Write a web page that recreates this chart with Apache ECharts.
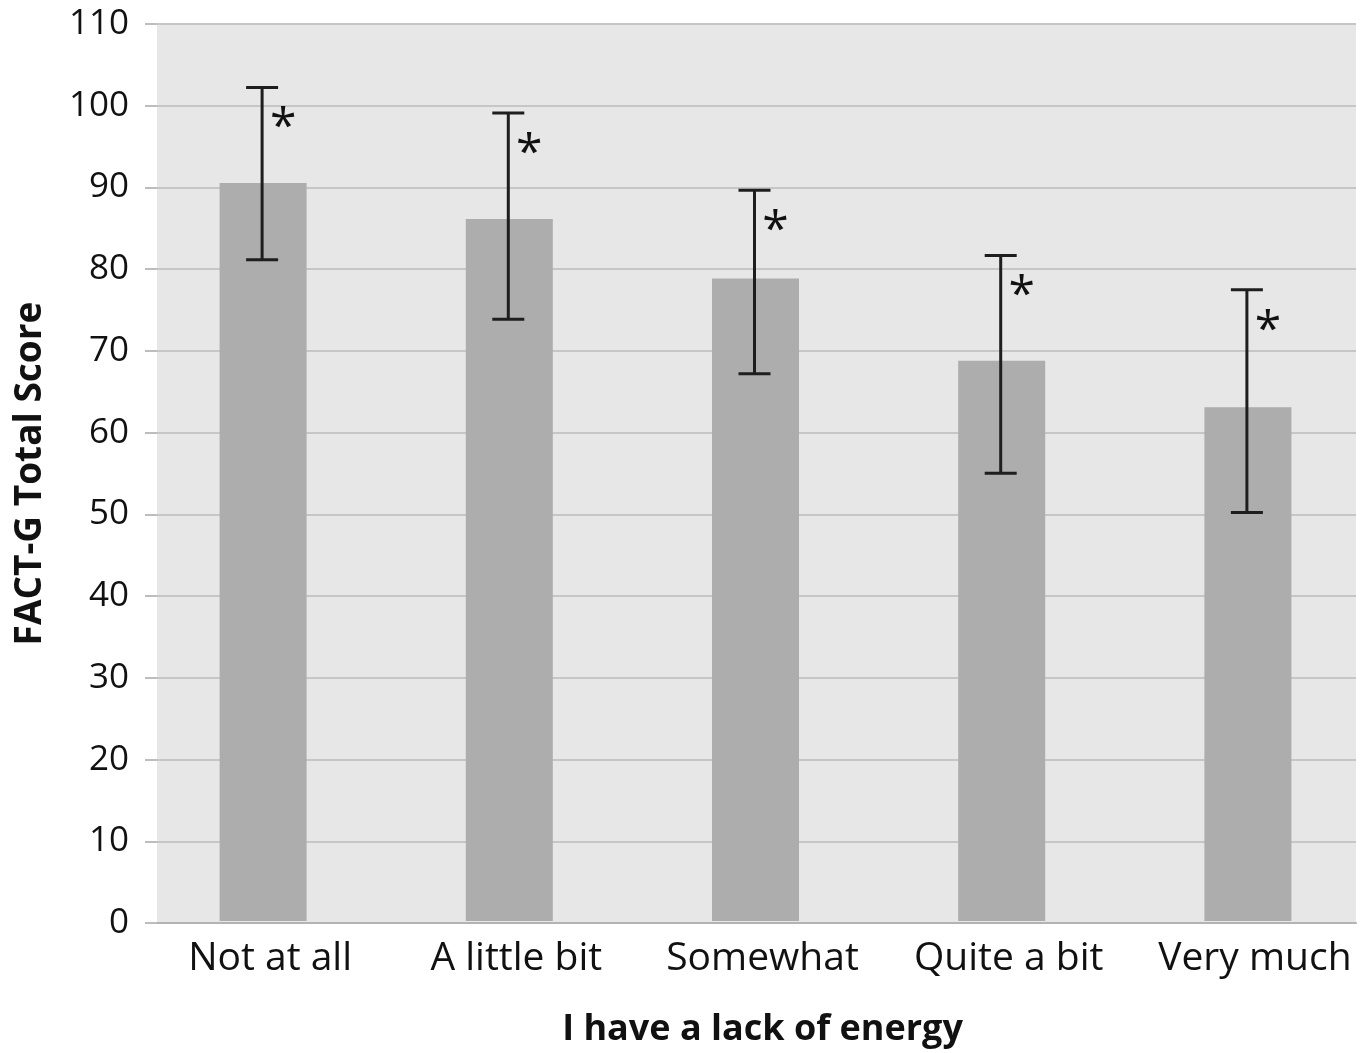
<!DOCTYPE html>
<html>
<head>
<meta charset="utf-8">
<script src="https://cdn.jsdelivr.net/npm/echarts@6/dist/echarts.min.js"></script>
<style>
html,body{margin:0;padding:0;background:#fff;}
#chart{width:1371px;height:1053px;}
</style>
</head>
<body>
<div id="chart"></div>
<script>
const categories = ['Not at all', 'A little bit', 'Somewhat', 'Quite a bit', 'Very much'];
const means = [90.5, 86.1, 78.8, 68.7, 63.0];
const lower = [81.1, 73.8, 67.1, 54.9, 50.1];
const upper = [102.2, 99.1, 89.6, 81.6, 77.4];
const marks = ['*', '*', '*', '*', '*'];
const yTicks = { min: 0, max: 110, interval: 10 };

const FONT = '"Open Sans", "Noto Sans", sans-serif';
const chart = echarts.init(document.getElementById('chart'), null, { renderer: 'canvas' });

const errData = categories.map((c, i) => [i, lower[i], upper[i], marks[i]]);

const option = {
  backgroundColor: '#ffffff',
  animation: false,
  grid: [
    { left: 157, right: 15, top: 24, bottom: 130, show: true, backgroundColor: '#e7e7e7', borderWidth: 0 },
    { left: 140, right: 0, top: 24, bottom: 130 }
  ],
  xAxis: [
    { gridIndex: 0, type: 'value', min: 0, max: 1, show: true,
      axisLine: { show: true, onZero: false, lineStyle: { color: '#b3b3b3', width: 2 } },
      axisTick: { show: false }, axisLabel: { show: false }, splitLine: { show: false } },
    { gridIndex: 1, type: 'category', data: categories, boundaryGap: true,
      axisLine: { show: false }, axisTick: { show: false }, splitLine: { show: false },
      axisLabel: { fontFamily: FONT, fontSize: 39, color: '#111', margin: 18, interval: 0,
        padding: [0, 0, 0, 14] },
      name: 'I have a lack of energy', nameLocation: 'middle', nameGap: 91,
      nameTextStyle: { fontFamily: FONT, fontSize: 36, fontWeight: 'bold', color: '#111',
        padding: [0, 0, 0, 14] } }
  ],
  yAxis: [
    { gridIndex: 0, type: 'value', min: yTicks.min, max: yTicks.max, interval: yTicks.interval,
      axisLine: { show: false },
      axisTick: { show: true, length: 12, lineStyle: { color: '#bdbdbd', width: 2 } },
      splitLine: { show: true, lineStyle: { color: '#c6c6c6', width: 2 } },
      axisLabel: { fontFamily: FONT, fontSize: 35, color: '#111', margin: 28 },
      name: 'FACT-G Total Score', nameLocation: 'middle', nameRotate: 90, nameGap: 108,
      nameTextStyle: { fontFamily: FONT, fontSize: 37, fontWeight: 'bold', color: '#111' } },
    { gridIndex: 1, type: 'value', min: yTicks.min, max: yTicks.max, interval: yTicks.interval, show: false }
  ],
  series: [
    { type: 'bar', xAxisIndex: 1, yAxisIndex: 1, data: means, barWidth: 87,
      itemStyle: { color: '#adadad' }, z: 3 },
    { type: 'custom', xAxisIndex: 1, yAxisIndex: 1, data: errData, z: 5,
      renderItem: function (params, api) {
        const lo = api.coord([api.value(0), api.value(1)]);
        const hi = api.coord([api.value(0), api.value(2)]);
        const x = lo[0] - 1;
        const hw = 16;
        const st = { stroke: '#1e1e1e', lineWidth: 3 };
        return {
          type: 'group',
          children: [
            { type: 'line', shape: { x1: x, y1: lo[1], x2: x, y2: hi[1] }, style: st },
            { type: 'line', shape: { x1: x - hw, y1: lo[1], x2: x + hw, y2: lo[1] }, style: st },
            { type: 'line', shape: { x1: x - hw, y1: hi[1], x2: x + hw, y2: hi[1] }, style: st },
            { type: 'text', style: { text: api.value(3), x: x + 21, y: hi[1] + 17, fontFamily: FONT,
                fontSize: 48, fill: '#111', textAlign: 'center', textVerticalAlign: 'top' } }
          ]
        };
      } }
  ]
};
chart.setOption(option);
</script>
</body>
</html>
